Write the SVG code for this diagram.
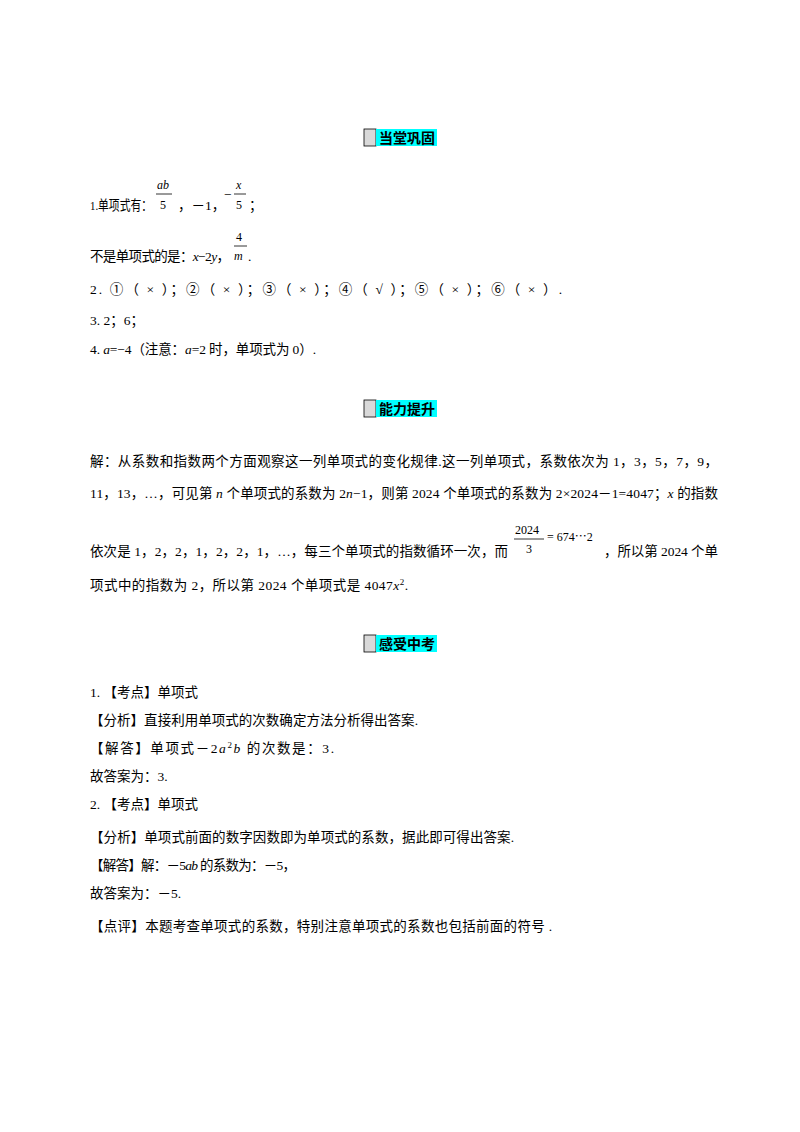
<svg xmlns="http://www.w3.org/2000/svg" width="800" height="1132" viewBox="0 0 800 1132">
<style>
text{font-family:"Liberation Serif","Noto Sans CJK SC",serif;font-size:13.5px;fill:#000}
.h{font-family:"Noto Sans CJK SC",sans-serif;font-weight:bold;font-size:14px}
.i{font-style:italic}
.s{font-size:12px}
</style>
<rect width="800" height="1132" fill="#fff"/>
<g id="h1"><rect x="364" y="129" width="12" height="17" fill="#d9d9d9" stroke="#000" stroke-width="0.8"/><rect x="376" y="129" width="61" height="17" fill="#00ffff"/><text class="h" x="379" y="143">当堂巩固</text></g>
<g id="h2"><rect x="364" y="400" width="12" height="17" fill="#d9d9d9" stroke="#000" stroke-width="0.8"/><rect x="376" y="400" width="61" height="17" fill="#00ffff"/><text class="h" x="379" y="414">能力提升</text></g>
<g id="h3"><rect x="364" y="635" width="12" height="17" fill="#d9d9d9" stroke="#000" stroke-width="0.8"/><rect x="376" y="635" width="61" height="17" fill="#00ffff"/><text class="h" x="379" y="649">感受中考</text></g>
<g id="sec1">
<text x="90" y="210" textLength="62" lengthAdjust="spacingAndGlyphs">1.单项式有：</text>
<text class="i s" x="157" y="189">ab</text><line x1="156" y1="194" x2="172" y2="194" stroke="#000" stroke-width="0.8"/><text class="s" x="160" y="209">5</text>
<text x="178" y="210">，－1，</text>
<text x="224" y="199">−</text><text class="i s" x="236" y="189">x</text><line x1="234" y1="194" x2="246" y2="194" stroke="#000" stroke-width="0.8"/><text class="s" x="236" y="209">5</text><text x="249" y="210">；</text>
<text x="90" y="261" textLength="140">不是单项式的是：<tspan class="i">x</tspan>−2<tspan class="i">y</tspan>，</text>
<text class="s" x="236" y="241">4</text><line x1="234" y1="246" x2="247" y2="246" stroke="#000" stroke-width="0.8"/><text class="i s" x="234" y="260">m</text><text x="248" y="261">.</text>
<text x="90" y="294" textLength="472">2. ①（ × ）；②（ × ）；③（ × ）；④（  √  ）；⑤（ × ）；⑥（ × ）.</text>
<text x="90" y="325">3. 2；6；</text>
<text x="90" y="354" textLength="226">4. <tspan class="i">a</tspan>=−4（注意：<tspan class="i">a</tspan>=2 时，单项式为 0）.</text>
</g>
<g id="sec2">
<text x="90" y="466" textLength="628">解：从系数和指数两个方面观察这一列单项式的变化规律.这一列单项式，系数依次为 1，3，5，7，9，</text>
<text x="90" y="498" textLength="628">11，13，…，可见第 <tspan class="i">n</tspan> 个单项式的系数为 2<tspan class="i">n</tspan>−1，则第 2024 个单项式的系数为 2×2024－1=4047；<tspan class="i">x</tspan> 的指数</text>
<text x="90" y="556" textLength="418">依次是 1，2，2，1，2，2，1，…，每三个单项式的指数循环一次，而</text>
<text class="s" x="515" y="534">2024</text><line x1="514" y1="539" x2="544" y2="539" stroke="#000" stroke-width="0.8"/><text class="s" x="526" y="553">3</text><text class="s" x="547" y="541">= 674⋯2</text>
<text x="604" y="556" textLength="114">，所以第 2024 个单</text>
<text x="90" y="590" textLength="318">项式中的指数为 2，所以第 2024 个单项式是 4047<tspan class="i">x</tspan><tspan font-size="9" dy="-5">2</tspan><tspan dy="5">.</tspan></text>
</g>
<g id="sec3">
<text x="90" y="697">1. 【考点】单项式</text>
<text x="90" y="725" textLength="328">【分析】直接利用单项式的次数确定方法分析得出答案.</text>
<text x="90" y="753" textLength="244">【解答】单项式－2<tspan class="i">a</tspan><tspan font-size="9" dy="-5">2</tspan><tspan class="i" dy="5">b</tspan> 的次数是：3.</text>
<text x="90" y="781">故答案为：3.</text>
<text x="90" y="809">2. 【考点】单项式</text>
<text x="90" y="842" textLength="424">【分析】单项式前面的数字因数即为单项式的系数，据此即可得出答案.</text>
<text x="90" y="870" textLength="206">【解答】解：－5<tspan class="i">ab</tspan> 的系数为：－5，</text>
<text x="90" y="898">故答案为：－5.</text>
<text x="90" y="931" textLength="462">【点评】本题考查单项式的系数，特别注意单项式的系数也包括前面的符号 .</text>
</g>
</svg>
